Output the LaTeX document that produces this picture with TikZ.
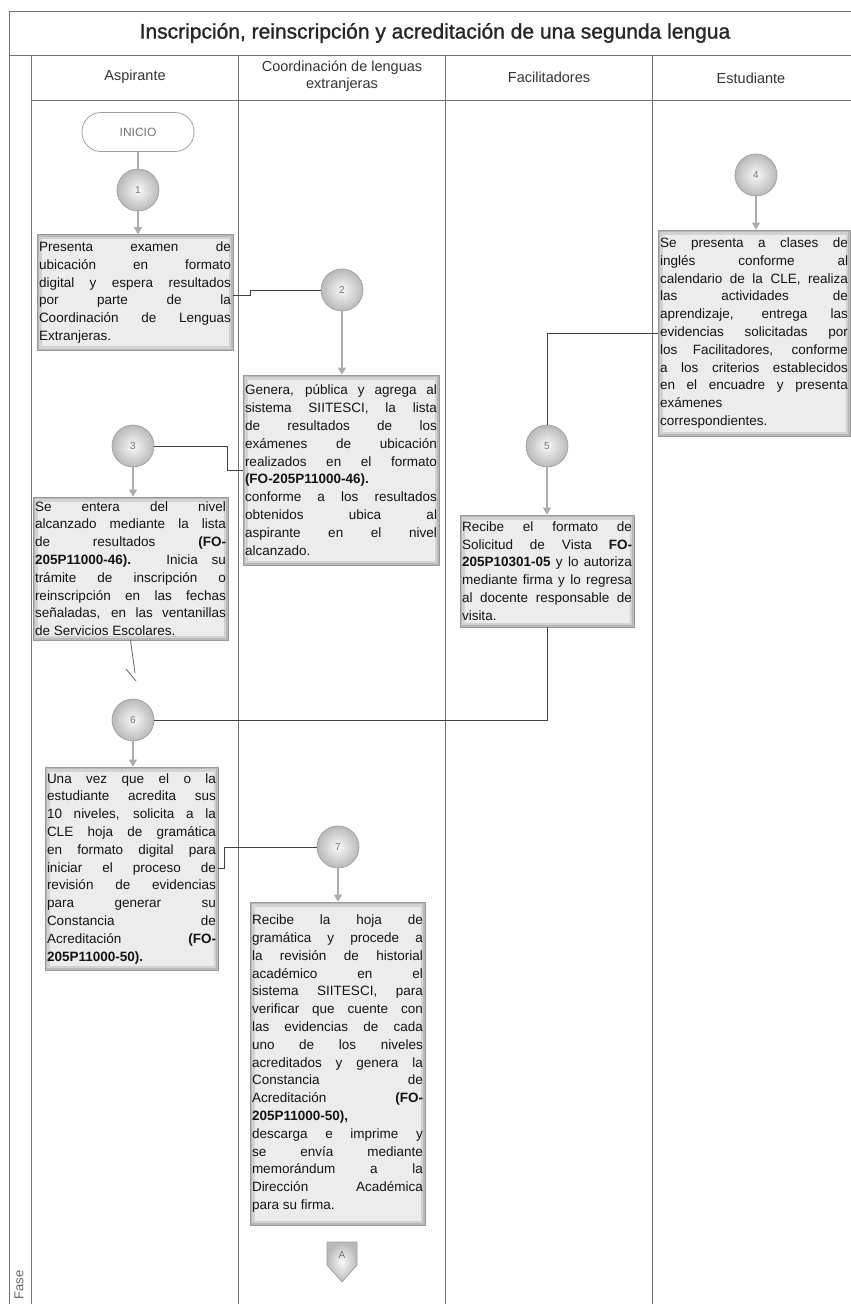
\documentclass[tikz,border=0pt]{standalone}
\usepackage{fontspec}
\setmainfont{Liberation Sans}
\newfontfamily\titlefont[FakeBold=1.2]{Liberation Sans}
\usetikzlibrary{arrows.meta,calc}
\hbadness=10000
\newcommand\bxfont{\fontsize{13.5}{17.8}\selectfont\hyphenpenalty=10000\exhyphenpenalty=10000\tolerance=10000\hbadness=10000}
\begin{document}
\begin{tikzpicture}[x=1pt,y=-1pt,
  lane/.style={draw=black!55, line width=0.8pt},
  hdr/.style={font=\fontsize{14.5}{16.5}\selectfont, text=black!80, inner sep=0pt},
  stepbox/.style={rectangle, draw=gray!80, line width=0.7pt, fill=gray!55,
    text width=#1, align=justify, inner xsep=2pt, inner ysep=3pt, font=\bxfont, text=black!92,
    path picture={
      \fill[gray!35] ($(path picture bounding box.north west)+(2pt,-2pt)$) rectangle ($(path picture bounding box.south east)+(-2pt,2pt)$);
      \fill[gray!15] ($(path picture bounding box.north west)+(4.5pt,-4.5pt)$) rectangle ($(path picture bounding box.south east)+(-4.5pt,4.5pt)$);
    }},
  stepnum/.style={circle, minimum size=42pt, inner sep=0pt, draw=gray!75, line width=0.7pt,
    inner color=gray!5, outer color=gray!55, text=black!55, font=\fontsize{10}{12}\selectfont},
  startbox/.style={rectangle, rounded corners=19pt, minimum width=112pt, minimum height=39pt,
    draw=gray!75, line width=0.8pt, fill=white, text=black!55, font=\fontsize{12}{14}\selectfont},
  flow/.style={draw=gray!65, line width=1.4pt, -{Triangle[length=7pt,width=8pt]}},
  plainflow/.style={draw=gray!65, line width=1.4pt},
  link/.style={draw=black!75, line width=0.8pt}
]
\useasboundingbox (0,0) rectangle (851,1304);
% table frame
\draw[lane] (9,11) -- (851,11);
\draw[lane] (9,55) -- (851,55);
\draw[lane] (31,100) -- (851,100);
\draw[lane] (9,11) -- (9,1304);
\draw[lane] (31,55) -- (31,1304);
\draw[lane] (238,55) -- (238,1304);
\draw[lane] (445,55) -- (445,1304);
\draw[lane] (652,55) -- (652,1304);

\node[font=\titlefont\fontsize{21}{23}\selectfont, text=black!85, inner sep=0pt] (title) at (435,33) {Inscripción, reinscripción y acreditación de una segunda lengua};
\node[hdr] (hA) at (135,77) {Aspirante};
\node[hdr, align=center] (hC) at (342,76) {Coordinación de lenguas\\extranjeras};
\node[hdr] (hF) at (549,77) {Facilitadores};
\node[hdr] (hE) at (751,78) {Estudiante};
\node[rotate=90, font=\fontsize{13}{15}\selectfont, text=black!60, inner sep=0pt] (fase) at (19,1285) {Fase};

% nodes
\node[startbox] (inicio) at (138,132) {INICIO};
\node[stepnum] (c1) at (138,190) {1};
\node[stepbox=192pt, minimum height=116pt] (b1) at (135,292.5) {Presenta examen de\linebreak ubicación en formato\linebreak digital y espera resultados\linebreak por parte de la\linebreak Coordinación de Lenguas\linebreak Extranjeras.};
\node[stepnum] (c2) at (342,290) {2};
\node[stepbox=192pt, minimum height=190pt] (b2) at (341,470) {Genera, pública y agrega al\linebreak sistema SIITESCI, la lista\linebreak de resultados de los\linebreak exámenes de ubicación\linebreak realizados en el formato\linebreak \textbf{(FO-205P11000-46).}\\ conforme a los resultados\linebreak obtenidos ubica al\linebreak aspirante en el nivel\linebreak alcanzado.};
\node[stepnum] (c3) at (133,446) {3};
\node[stepbox=191pt, minimum height=143pt] (b3) at (130.5,568.5) {Se entera del nivel\linebreak alcanzado mediante la lista\linebreak de resultados \textbf{(FO-}\linebreak \textbf{205P11000-46).} Inicia su\linebreak trámite de inscripción o\linebreak reinscripción en las fechas\linebreak señaladas, en las ventanillas\linebreak de Servicios Escolares.};
\node[stepnum] (c4) at (756,175) {4};
\node[stepbox=188pt, minimum height=206pt] (b4) at (754,333) {Se presenta a clases de\linebreak inglés conforme al\linebreak calendario de la CLE, realiza\linebreak las actividades de\linebreak aprendizaje, entrega las\linebreak evidencias solicitadas por\linebreak los Facilitadores, conforme\linebreak a los criterios establecidos\linebreak en el encuadre y presenta\linebreak exámenes\\ correspondientes.};
\node[stepnum] (c5) at (547,446) {5};
\node[stepbox=170pt, minimum height=112pt] (b5) at (547,571) {Recibe el formato de\linebreak Solicitud de Vista \textbf{FO-}\linebreak \textbf{205P10301-05} y lo autoriza\linebreak mediante firma y lo regresa\linebreak al docente responsable de\linebreak visita.};
\node[stepnum] (c6) at (133,720) {6};
\node[stepbox=169pt, minimum height=203pt] (b6) at (131.5,868.5) {Una vez que el o la\linebreak estudiante acredita sus\linebreak 10 niveles, solicita a la\linebreak CLE hoja de gramática\linebreak en formato digital para\linebreak iniciar el proceso de\linebreak revisión de evidencias\linebreak para generar su\linebreak Constancia de\linebreak Acreditación \textbf{(FO-}\linebreak \textbf{205P11000-50).}};
\node[stepnum] (c7) at (338,847) {7};
\node[stepbox=171pt, minimum height=323pt] (b7) at (337.5,1063.5) {Recibe la hoja de\linebreak gramática y procede a\linebreak la revisión de historial\linebreak académico en el\linebreak sistema SIITESCI, para\linebreak verificar que cuente con\linebreak las evidencias de cada\linebreak uno de los niveles\linebreak acreditados y genera la\linebreak Constancia de\linebreak Acreditación \textbf{(FO-}\linebreak \textbf{205P11000-50),}\\ descarga e imprime y\linebreak se envía mediante\linebreak memorándum a la\linebreak Dirección Académica\linebreak para su firma.};

% off-page connector A
\shade[draw=gray!75, line width=0.7pt, inner color=gray!5, outer color=gray!55] (327,1242) -- (357,1242) -- (357,1265) -- (342,1282) -- (327,1265) -- cycle;
\node[font=\fontsize{10}{12}\selectfont, text=black!55, inner sep=0pt] (A) at (342,1255) {A};

% flow arrows
\draw[plainflow] (inicio.south) -- (c1.north);
\draw[flow] (c1.south) -- (c1.south |- b1.north);
\draw[flow] (c2.south) -- (c2.south |- b2.north);
\draw[flow] (c3.south) -- (c3.south |- b3.north);
\draw[flow] (c4.south) -- (c4.south |- b4.north);
\draw[flow] (c5.south) -- (c5.south |- b5.north);
\draw[flow] (c6.south) -- (c6.south |- b6.north);
\draw[flow] (c7.south) -- (c7.south |- b7.north);

% lane links
\draw[link] ([yshift=-2.5pt]b1.east) -- ++(17,0) |- (c2.west);
\draw[link] (c3.east) -| ([xshift=-15pt]b2.west) -- (b2.west);
\draw[link] (b4.west) -| (c5.north);
\draw[link] (b5.south) |- (c6.east);
\draw[link] (b6.east) -- ++(6,0) |- (c7.west);
\coordinate (stubend) at (135,673);
\draw[draw=black!60, line width=0.8pt] (b3.south) -- (stubend);
\draw[draw=black!60, line width=0.8pt] (126,669) -- (136,681);
\end{tikzpicture}
\end{document}
